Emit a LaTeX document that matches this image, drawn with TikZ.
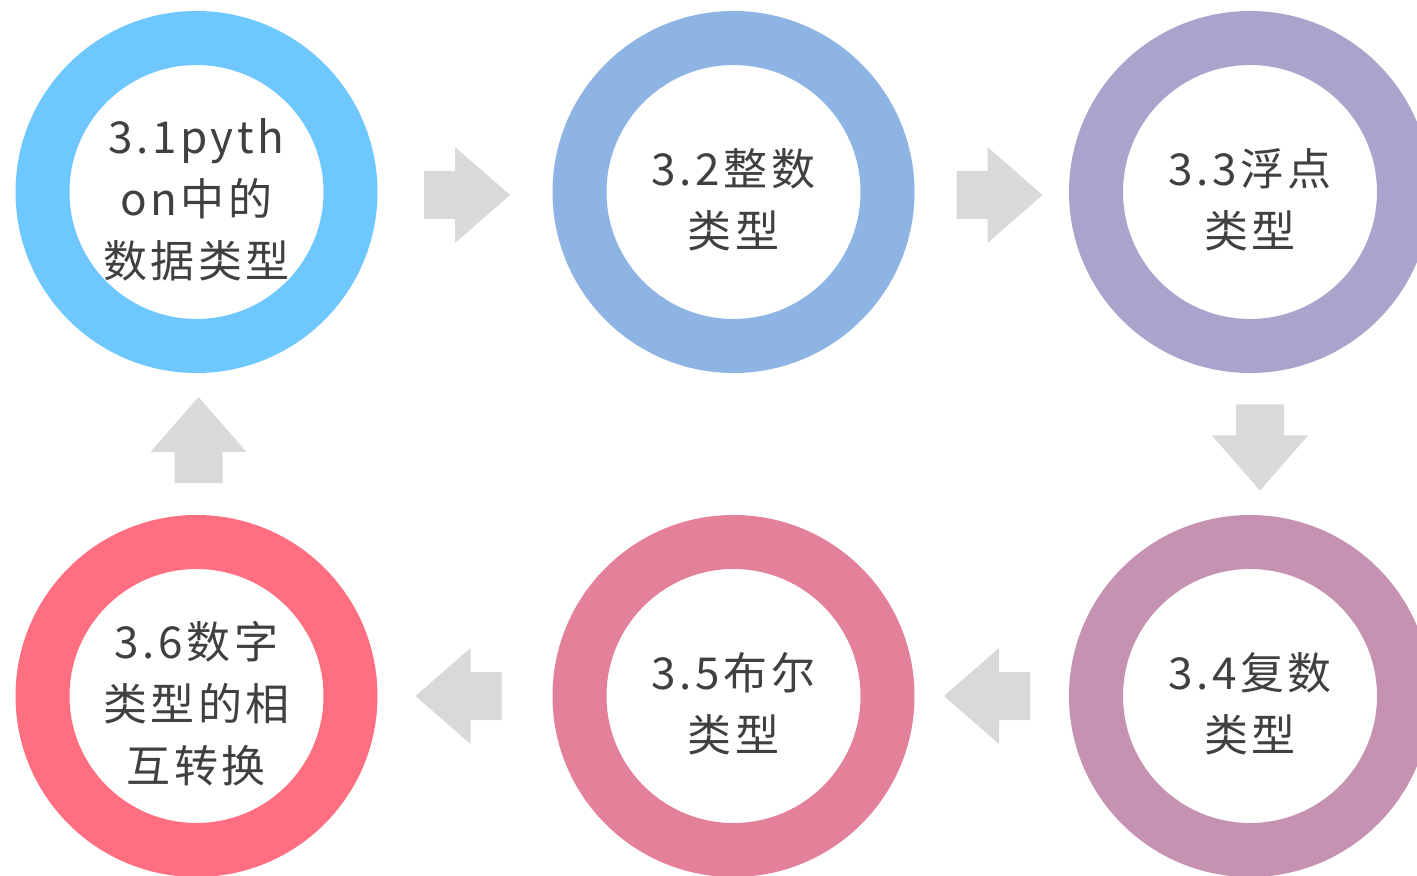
\documentclass[tikz,border=0pt]{standalone}
\usepackage{fontspec}
\setmainfont{Noto Sans CJK SC}[LetterSpace=8]

\definecolor{ringA}{HTML}{6FC7FF}
\definecolor{ringB}{HTML}{8DB4E3}
\definecolor{ringC}{HTML}{A9A4CC}
\definecolor{ringD}{HTML}{C592B1}
\definecolor{ringE}{HTML}{E3819A}
\definecolor{ringF}{HTML}{FF6F81}
\definecolor{txtgray}{HTML}{404040}
\definecolor{arrowgray}{HTML}{D9D9D9}

\tikzset{
  ring/.style={circle,draw=#1,line width=27pt,minimum size=154pt,
    inner sep=0pt,outer sep=0pt},
  ringtext/.style={align=center,text=txtgray,inner sep=0pt,
    font=\fontsize{22}{31}\selectfont},
}
% block arrow from its tail, pointing along the given angle
\newcommand{\blockarrow}[2]{%
  \fill[arrowgray,shift={(#1)},rotate=#2]
    (0,-24) -- (31,-24) -- (31,-48) -- (86,0) -- (31,48) -- (31,24) -- (0,24) -- cycle;}

\begin{document}
\begin{tikzpicture}[x=0.5pt,y=-0.5pt]
		\useasboundingbox[fill=white] (0,0) rectangle (1417,876);
		
		% rings, top row left to right, bottom row right to left
		\node[ring=ringA] (r1) at (196.5,192) {};
		\node[ring=ringB] (r2) at (733.5,192) {};
		\node[ring=ringC] (r3) at (1250,192) {};
		\node[ring=ringD] (r4) at (1250,696) {};
		\node[ring=ringE] (r5) at (733.5,696) {};
		\node[ring=ringF] (r6) at (196.5,696) {};
		
		\node[ringtext] (l1) at ([yshift=-4pt]r1.center) {3.1pyth\\on中的\\数据类型};
		\node[ringtext] (l2) at ([yshift=-4pt]r2.center) {3.2整数\\类型};
		\node[ringtext] (l3) at ([yshift=-4pt]r3.center) {3.3浮点\\类型};
		\node[ringtext] (l4) at ([yshift=-4pt]r4.center) {3.4复数\\类型};
		\node[ringtext] (l5) at ([yshift=-4pt]r5.center) {3.5布尔\\类型};
		\node[ringtext] (l6) at ([yshift=-4pt]r6.center) {3.6数字\\类型的相\\互转换};
		
		% arrow tails
		\coordinate (t12) at (424,195);
		\coordinate (t23) at (956.5,195);
		\coordinate (t34) at (1260,404.5);
		\coordinate (t45) at (1030,696);
		\coordinate (t56) at (501.5,696);
		\coordinate (t61) at (198.5,483);
		
		\blockarrow{t12}{0}
		\blockarrow{t23}{0}
		\blockarrow{t34}{-90}
		\blockarrow{t45}{180}
		\blockarrow{t56}{180}
		\blockarrow{t61}{90}
\end{tikzpicture}
\end{document}
